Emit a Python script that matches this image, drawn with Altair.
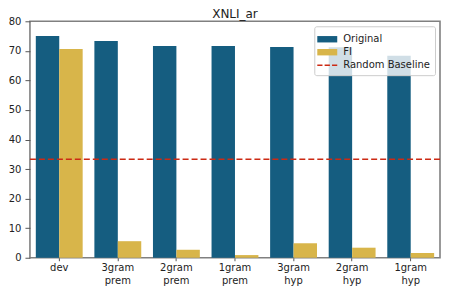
import altair as alt
import pandas as pd

categories = ["dev", "3gram\nprem", "2gram\nprem", "1gram\nprem", "3gram\nhyp", "2gram\nhyp", "1gram\nhyp"]
original = [75.0, 73.3, 71.6, 71.6, 71.3, 71.2, 68.3]
fi = [70.6, 5.6, 2.7, 0.9, 4.9, 3.4, 1.6]
baseline = 33.3
series_names = ["Original", "FI", "Random Baseline"]
series_colors = ["#155d80", "#d8b54a", "#cc2a14"]
y_ticks = [0, 10, 20, 30, 40, 50, 60, 70, 80]

rows = []
for c, o, f in zip(categories, original, fi):
    rows.append({"cat": c, "series": "Original", "value": o})
    rows.append({"cat": c, "series": "FI", "value": f})
df = pd.DataFrame(rows)

FONT = "DejaVu Sans"

rect_path = "M-1.25,-0.4H1.25V0.4H-1.25Z"
dash_path = "M-1.25,-0.1H-0.6V0.1H-1.25Z M-0.33,-0.1H0.33V0.1H-0.33Z M0.6,-0.1H1.25V0.1H0.6Z"

color_scale = alt.Scale(domain=series_names, range=series_colors)

legend = alt.Legend(
    title=None,
    orient="top-right",
    offset=5,
    padding=5,
    fillColor="rgba(255,255,255,0.8)",
    strokeColor="#cccccc",
    cornerRadius=2,
    labelFont=FONT,
    labelFontSize=10,
    labelColor="#222222",
    labelOffset=8,
    symbolSize=256,
    symbolStrokeWidth=0,
    symbolOpacity=1,
    symbolType={"expr": "datum.label === 'Random Baseline' ? '" + dash_path + "' : '" + rect_path + "'"},
    rowPadding=0,
)

y_axis = alt.Axis(
    values=y_ticks,
    grid=False,
    labelFont=FONT,
    labelFontSize=10,
    labelColor="#222222",
    labelPadding=4,
    tickSize=5,
    tickColor="#555555",
    domain=False,
)
y_scale = alt.Scale(domain=[0, 80], nice=False)

bars = alt.Chart(df).mark_bar(opacity=1).encode(
    x=alt.X(
        "cat:N",
        sort=categories,
        title=None,
        scale=alt.Scale(paddingInner=0.2, paddingOuter=0.1),
        axis=alt.Axis(
            labelExpr="split(datum.label, '\\n')",
            labelAngle=0,
            labelFont=FONT,
            labelFontSize=10,
            labelColor="#222222",
            labelLineHeight=13,
            labelPadding=2,
            tickSize=3,
            tickColor="#555555",
            domain=False,
        ),
    ),
    xOffset=alt.XOffset("series:N", sort=["Original", "FI"]),
    y=alt.Y("value:Q", title=None, scale=y_scale, axis=y_axis),
    color=alt.Color("series:N", scale=color_scale, legend=legend),
)

rule = alt.Chart(pd.DataFrame({"y": [baseline], "series": ["Random Baseline"]})).mark_rule(
    strokeDash=[6, 3], strokeWidth=1.5
).encode(
    y=alt.Y("y:Q", title=None, scale=y_scale, axis=y_axis),
    color=alt.Color("series:N", scale=color_scale, legend=legend),
)

chart = (
    alt.layer(bars, rule)
    .properties(
        width=411,
        height=237,
        title=alt.TitleParams("XNLI_ar", font=FONT, fontSize=12, fontWeight="normal", color="#222222",
                              offset=-5, frame="group"),
        padding={"left": 0, "right": 0, "top": 0, "bottom": 0},
    )
    .configure_view(stroke="#808080", strokeWidth=1.6)
)

chart.save("out.html", embed_options={"renderer": "svg", "actions": False})
